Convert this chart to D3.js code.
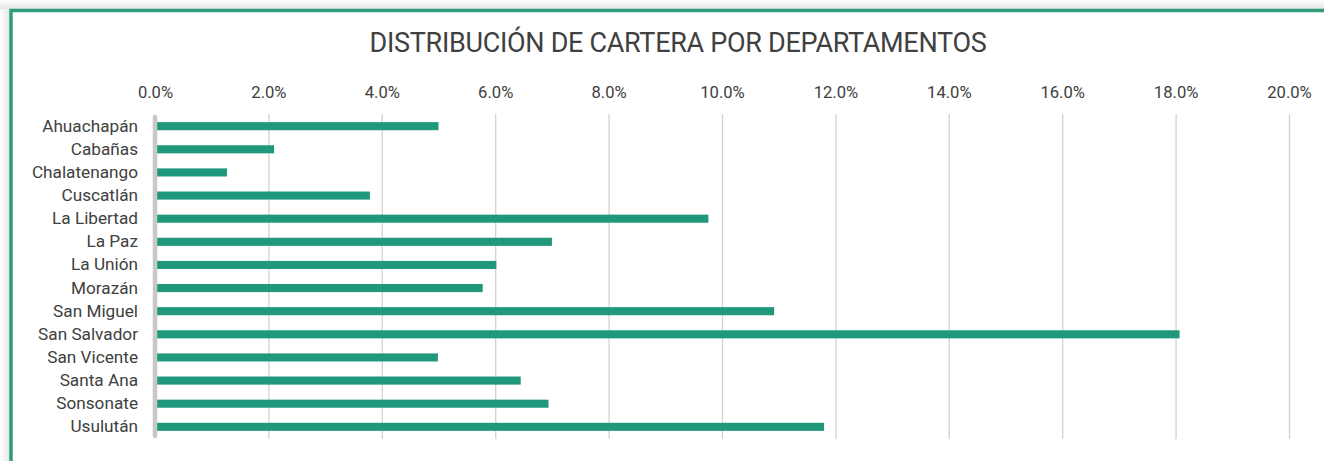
<!DOCTYPE html>
<html><head><meta charset="utf-8">
<script src="https://cdn.jsdelivr.net/npm/d3@7"></script>
<style>
html,body{margin:0;padding:0;background:#fff;overflow:hidden;}
svg{display:block;font-family:Roboto,"Noto Sans",sans-serif;}
</style></head>
<body>
<script>
const categories = ["Ahuachapán","Cabañas","Chalatenango","Cuscatlán","La Libertad","La Paz","La Unión","Morazán","San Miguel","San Salvador","San Vicente","Santa Ana","Sonsonate","Usulután"];
const values = [5.0, 2.1, 1.27, 3.79, 9.76, 7.0, 6.02, 5.78, 10.92, 18.07, 4.99, 6.45, 6.94, 11.8];
const tickValues = [0,2,4,6,8,10,12,14,16,18,20];
const title = "DISTRIBUCIÓN DE CARTERA POR DEPARTAMENTOS";

const W = 1324, H = 461;
const svg = d3.select("body").append("svg").attr("width", W).attr("height", H);

// shadow + frame
const defs = svg.append("defs");
const gT = defs.append("linearGradient").attr("id","shT").attr("x1",0).attr("y1",0).attr("x2",0).attr("y2",1);
gT.append("stop").attr("offset","0%").attr("stop-color","#ffffff");
gT.append("stop").attr("offset","100%").attr("stop-color","#e4e4e4");
const gL = defs.append("linearGradient").attr("id","shL").attr("x1",0).attr("y1",0).attr("x2",1).attr("y2",0);
gL.append("stop").attr("offset","0%").attr("stop-color","#ffffff");
gL.append("stop").attr("offset","100%").attr("stop-color","#e8e8e8");
svg.append("rect").attr("x",0).attr("y",0).attr("width",W).attr("height",9).attr("fill","url(#shT)");
svg.append("rect").attr("x",0).attr("y",9).attr("width",9).attr("height",H).attr("fill","url(#shL)");
svg.append("rect").attr("x",11).attr("y",10.5).attr("width",W+20).attr("height",H+20)
  .attr("fill","#fff").attr("stroke","#2f9a7c").attr("stroke-width",3.5);

const x = d3.scaleLinear().domain([0,20]).range([155,1289]);
const y = d3.scaleBand().domain(categories).range([114.5,438.5]).paddingInner(0.65).paddingOuter(0.33);

// gridlines
svg.append("g").selectAll("line").data(tickValues.filter(d=>d>0)).join("line")
  .attr("x1",d=>x(d)+0.5).attr("x2",d=>x(d)+0.5).attr("y1",114).attr("y2",439)
  .attr("stroke","#d2d2d2").attr("stroke-width",1.3);

// top axis labels
const ax = d3.axisTop(x).tickValues(tickValues).tickSize(0).tickPadding(0)
  .tickFormat(d=>d3.format(".1f")(d)+"%");
const axg = svg.append("g").attr("transform","translate(0,98)").call(ax);
axg.select(".domain").remove();
axg.selectAll("text").attr("fill","#404040").attr("font-size",16.6).attr("font-family","Roboto");

// bars
svg.append("g").selectAll("rect").data(values).join("rect")
  .attr("x",x(0)+2).attr("y",(d,i)=>y(categories[i]))
  .attr("width",d=>x(d)-x(0)-2).attr("height",y.bandwidth())
  .attr("fill","#1f987c");

// zero axis line
svg.append("line").attr("x1",x(0)).attr("x2",x(0)).attr("y1",117).attr("y2",436)
  .attr("stroke","#c8c8c8").attr("stroke-width",4.5).attr("stroke-linecap","round");

// category labels
const ay = d3.axisLeft(y).tickSize(0).tickPadding(0);
const ayg = svg.append("g").attr("transform","translate(138,0)").call(ay);
ayg.select(".domain").remove();
ayg.selectAll("text").attr("fill","#404040").attr("font-size",17.2).attr("font-family","Roboto");

svg.append("text").attr("x",678).attr("y",52).attr("text-anchor","middle")
  .attr("font-size",27).attr("letter-spacing",-0.3).attr("fill","#404040").attr("font-family","Roboto").text(title);
</script>
</body></html>
